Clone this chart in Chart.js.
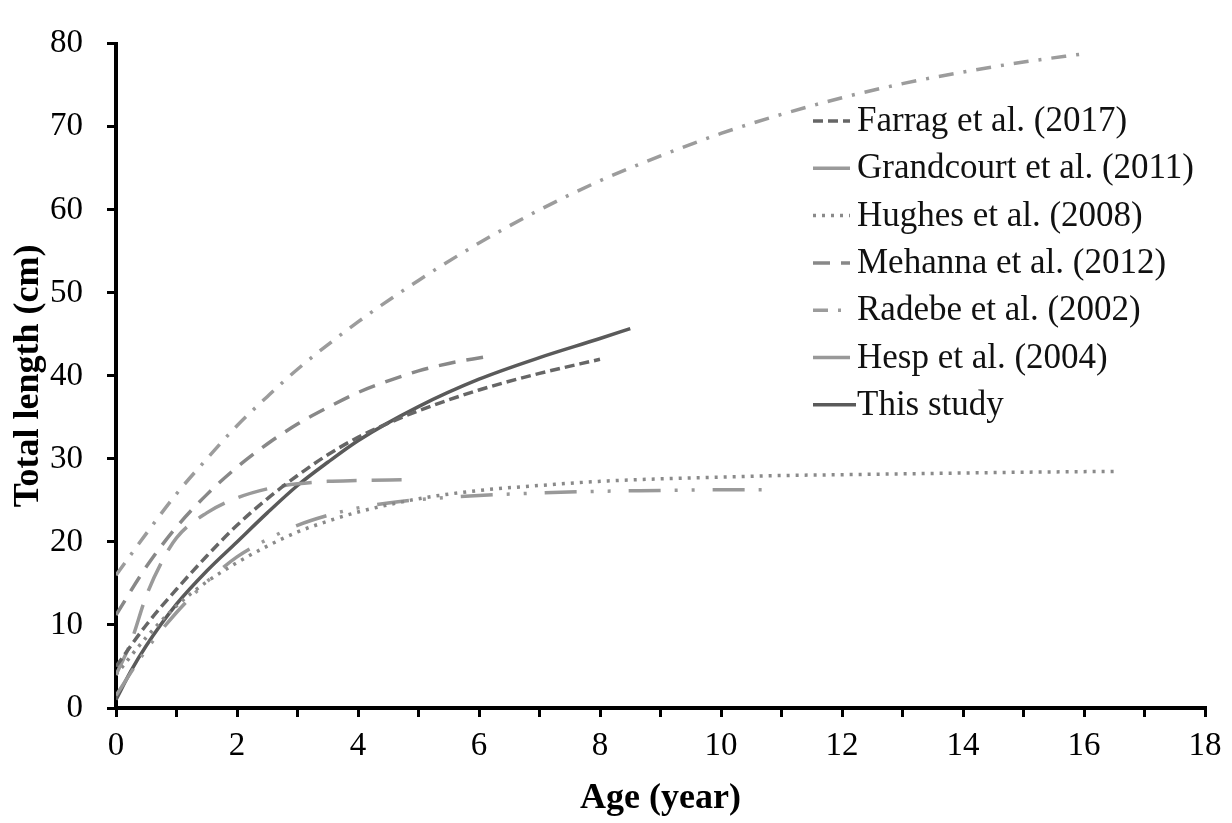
<!DOCTYPE html>
<html>
<head>
<meta charset="utf-8">
<script src="https://cdn.jsdelivr.net/npm/chart.js@4"></script>
<style>
  html, body { margin: 0; padding: 0; background: #fff; }
  #wrap { width: 1232px; height: 823px; }
</style>
</head>
<body>
<div id="wrap"><canvas id="graficaCrecimiento" width="1232" height="823"></canvas></div>
<script>
// datos (edad en anos, longitud total en cm)
const farragAge = [0, 0.5, 1, 1.5, 2, 2.5, 3, 3.5, 4, 4.5, 5, 6, 7, 8];
const farragLen = [5, 10, 14.3, 18.3, 22, 25.2, 28, 30.5, 32.6, 34.3, 35.8, 38.3, 40.3, 42];

const grandcourtAge = [0, 0.25, 0.5, 0.75, 1, 1.5, 2, 2.5, 3, 3.5, 4, 4.8];
const grandcourtLen = [4, 8, 13.5, 17.5, 20.5, 23.5, 25.3, 26.4, 27, 27.3, 27.4, 27.5];

const hughesAge = [0, 0.5, 1, 1.5, 2, 2.5, 3, 3.5, 4, 5, 6, 7, 8, 9, 10, 11, 12, 13, 14, 15, 16.5];
const hughesLen = [4, 8.5, 12.3, 15.2, 17.5, 19.5, 21.2, 22.5, 23.6, 25.2, 26.2, 26.8, 27.3, 27.6, 27.8, 28, 28.1, 28.2, 28.3, 28.4, 28.5];

const mehannaAge = [0, 0.5, 1, 1.5, 2, 2.5, 3, 3.5, 4, 4.5, 5, 5.5, 6.1];
const mehannaLen = [11.2, 17, 21.8, 25.7, 29, 31.8, 34.2, 36.2, 38, 39.4, 40.6, 41.5, 42.3];

const radebeAge = [0, 0.5, 1, 1.5, 2, 2.5, 3, 4, 5, 6, 7, 8, 9, 10, 11, 12, 13, 14, 15, 16];
const radebeLen = [16, 21, 25.8, 30, 34, 37.5, 40.8, 46.5, 51.5, 56, 60, 63.5, 66.5, 69.2, 71.5, 73.5, 75.2, 76.6, 77.8, 78.8];

const hespAge = [0, 0.5, 1, 1.5, 2, 2.5, 3, 3.5, 4, 4.5, 5, 6, 7, 8, 9, 10, 10.8];
const hespLen = [1.5, 7, 11.5, 15.2, 18.2, 20.3, 22, 23.2, 24.1, 24.7, 25.1, 25.6, 25.9, 26.1, 26.2, 26.3, 26.3];

const estudioAge = [0, 0.25, 0.5, 1, 1.5, 2, 2.5, 3, 3.5, 4, 5, 6, 7, 8, 8.5];
const estudioLen = [1, 4.5, 7.5, 12.5, 16.5, 20, 23.5, 26.8, 29.6, 32.2, 36.3, 39.6, 42.2, 44.5, 45.7];

const etiquetas = [
    'Farrag et al. (2017)',
    'Grandcourt et al. (2011)',
    'Hughes et al. (2008)',
    'Mehanna et al. (2012)',
    'Radebe et al. (2002)',
    'Hesp et al. (2004)',
    'This study'
];

const ageTicksMax = 18;
const lengthTicksMax = 80;

const fuente = '"Liberation Serif", "Times New Roman", serif';

function puntos(edades, longitudes) {
    return edades.map((e, i) => ({ x: e, y: longitudes[i] }));
}

const series = [
    { data: puntos(farragAge, farragLen), color: '#666666', dash: [10, 5], width: 3.5 },
    { data: puntos(grandcourtAge, grandcourtLen), color: '#9a9a9a', dash: [30, 15], width: 3.5 },
    { data: puntos(hughesAge, hughesLen), color: '#8a8a8a', dash: [3, 6], width: 3.5 },
    { data: puntos(mehannaAge, mehannaLen), color: '#888888', dash: [17, 11], width: 3.5 },
    { data: puntos(radebeAge, radebeLen), color: '#9c9c9c', dash: [15, 10, 3, 10], width: 3.5 },
    { data: puntos(hespAge, hespLen), color: '#999999', dash: [32, 14, 3, 14, 3, 18], width: 3.5 },
    { data: puntos(estudioAge, estudioLen), color: '#5a5a5a', dash: [], width: 3.5 }
];

// leyenda dibujada dentro del area de la grafica
const leyendaInterna = {
    id: 'leyendaInterna',
    afterDatasetsDraw(chart) {
        const ctx = chart.ctx;
        ctx.save();
        ctx.font = '35px ' + fuente;
        ctx.textBaseline = 'middle';
        ctx.textAlign = 'left';
        chart.data.datasets.forEach((ds, i) => {
            const y = 121 + i * 47.3;
            const x0 = 813;
            const x1 = i === chart.data.datasets.length - 1 ? 856 : 850;
            ctx.strokeStyle = ds.borderColor;
            ctx.lineWidth = ds.borderWidth;
            ctx.setLineDash(i === 1 || i === 5 ? [] : ds.borderDash);
            ctx.beginPath();
            ctx.moveTo(x0, y);
            ctx.lineTo(x1, y);
            ctx.stroke();
            ctx.setLineDash([]);
            ctx.fillStyle = '#111';
            ctx.fillText(ds.label, 857, y + 1);
        });
        ctx.restore();
    }
};

const ctx = document.getElementById('graficaCrecimiento').getContext('2d');
new Chart(ctx, {
    type: 'line',
    data: {
        datasets: series.map((s, i) => ({
            label: etiquetas[i],
            data: s.data,
            borderColor: s.color,
            backgroundColor: s.color,
            borderDash: s.dash,
            borderWidth: s.width,
            pointRadius: 0,
            fill: false,
            cubicInterpolationMode: 'monotone'
        }))
    },
    options: {
        responsive: false,
        animation: false,
        layout: { padding: { top: 22, right: 27, left: 0, bottom: 0 } },
        plugins: {
            legend: { display: false },
            tooltip: { enabled: false }
        },
        scales: {
            x: {
                type: 'linear',
                min: 0,
                max: ageTicksMax,
                afterFit: (scale) => { scale.height = 115; },
                ticks: {
                    stepSize: 1,
                    autoSkip: false,
                    maxRotation: 0,
                    padding: 10,
                    color: '#000',
                    font: { family: fuente, size: 33 },
                    callback: (v) => (v % 2 === 0 ? v : '')
                },
                grid: { drawOnChartArea: false, drawTicks: true, tickLength: 9, color: '#000', lineWidth: 3 },
                border: { color: '#000', width: 4 },
                title: {
                    display: true,
                    text: 'Age (year)',
                    color: '#000',
                    padding: { top: 0, bottom: 3 },
                    font: { family: fuente, size: 36, weight: 'bold' }
                }
            },
            y: {
                min: 0,
                max: lengthTicksMax,
                afterFit: (scale) => { scale.width = 116; },
                ticks: {
                    stepSize: 10,
                    padding: 24,
                    color: '#000',
                    font: { family: fuente, size: 33 }
                },
                grid: { drawOnChartArea: false, drawTicks: true, tickLength: 9, color: '#000', lineWidth: 3 },
                border: { color: '#000', width: 4 },
                title: {
                    display: true,
                    text: 'Total length (cm)',
                    color: '#000',
                    padding: { top: 7, bottom: 0 },
                    font: { family: fuente, size: 36, weight: 'bold' }
                }
            }
        }
    },
    plugins: [leyendaInterna]
});
</script>
</body>
</html>
